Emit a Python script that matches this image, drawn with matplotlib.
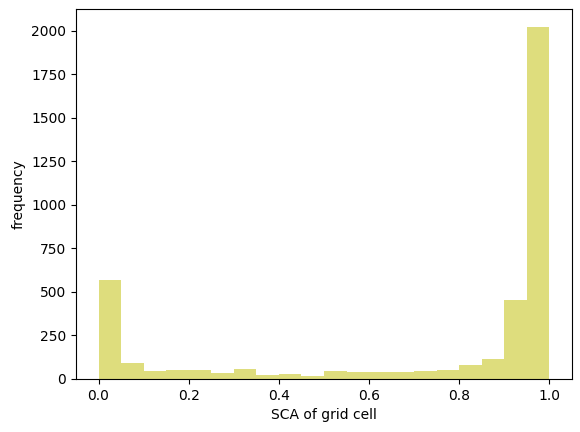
import matplotlib
matplotlib.use("Agg")
import matplotlib.pyplot as plt
import numpy as np

bin_edges = np.linspace(0, 1, 21)
counts = [570, 90, 44, 50, 50, 33, 56, 21, 27, 15,
          44, 38, 38, 38, 44, 50, 79, 113, 453, 2025]
xlabel = "SCA of grid cell"
ylabel = "frequency"

fig = plt.figure(figsize=(5.8, 4.32), dpi=100)
ax = fig.add_axes([76/580, 53/432, 496/580, 370/432])
centers = (bin_edges[:-1] + bin_edges[1:]) / 2
ax.hist(centers, bins=bin_edges, weights=counts, color="#dedd7d")
ax.set_xlabel(xlabel)
ax.set_ylabel(ylabel)
fig.savefig("out.png", dpi=100)
